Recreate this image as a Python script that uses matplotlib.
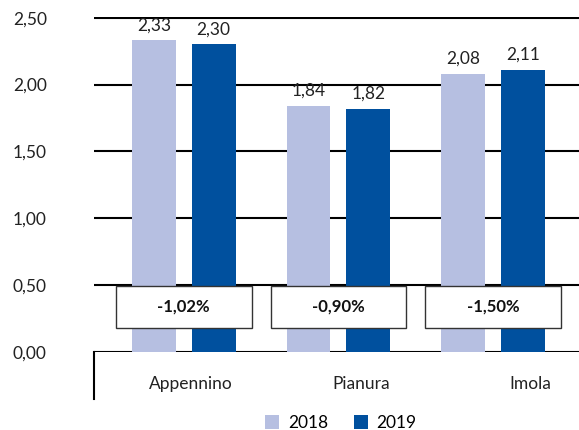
import matplotlib.pyplot as plt
from matplotlib.patches import Rectangle
import numpy as np

plt.rcParams['font.family'] = ['Lato', 'DejaVu Sans']

categories = ['Appennino', 'Pianura', 'Imola']
values_2018 = [2.33, 1.84, 2.08]
values_2019 = [2.30, 1.82, 2.11]
changes = ['-1,02%', '-0,90%', '-1,50%']
label_shift = [0.045, 0.15, 0.24]  # category labels are not centred in the original

c2018 = '#b6bfe1'
c2019 = '#00509e'

fig = plt.figure(figsize=(5.79, 4.30), dpi=100)
ax = fig.add_axes([94 / 579, 1 - 352 / 430, 1 - 94 / 579, (352 - 17) / 430])

x = np.arange(len(categories))
w = 44 / 155
off = 30 / 155
b1 = ax.bar(x - off, values_2018, w, color=c2018, label='2018', zorder=2)
b2 = ax.bar(x + off, values_2019, w, color=c2019, label='2019', zorder=2)

def fmt(v):
    return ('%.2f' % v).replace('.', ',')

for bars, vals in ((b1, values_2018), (b2, values_2019)):
    for bar, v in zip(bars, vals):
        ax.annotate(fmt(v), (bar.get_x() + bar.get_width() / 2, v),
                    xytext=(0, 5), textcoords='offset points',
                    ha='center', va='bottom', fontsize=12.5, color='#222222')

# boxes with the percentage change
for xi, txt in zip(x, changes):
    bw = 136 / 155
    ax.add_patch(Rectangle((xi - bw / 2, 0.18), bw, 0.315, facecolor='white',
                           edgecolor='#333333', lw=1, zorder=4))
    ax.text(xi, 0.18 + 0.315 / 2, txt, ha='center', va='center',
            fontsize=12, fontweight='bold', color='#111111', zorder=5)

ax.set_xlim(-0.58, 2.555)
ax.set_ylim(0, 2.505)
ax.set_yticks([0, 0.5, 1.0, 1.5, 2.0, 2.5])
ax.set_yticklabels([fmt(v) for v in [0, 0.5, 1.0, 1.5, 2.0, 2.5]], fontsize=12.5, color='#222222')
ax.tick_params(axis='y', length=0, pad=34)
ax.set_xticks(x + np.array(label_shift))
ax.set_xticklabels(categories, fontsize=12.5, color='#222222')
ax.tick_params(axis='x', length=0, pad=17)

for s in ax.spines.values():
    s.set_visible(False)
ax.yaxis.grid(True, color='black', lw=1.5)
ax.set_axisbelow(True)

# vertical line below the axis at the left
ax.plot([0, 0], [0, -47 / 335], transform=ax.transAxes, color='black',
        lw=1.5, clip_on=False)

fig.legend(handles=[b1, b2], labels=['2018', '2019'], loc='center',
           bbox_to_anchor=(341 / 579, 1 - 423 / 430), ncol=2, frameon=False,
           fontsize=12.5, handlelength=0.8, handleheight=0.8, handletextpad=0.5,
           columnspacing=1.5)

fig.savefig('out.png', dpi=100)
